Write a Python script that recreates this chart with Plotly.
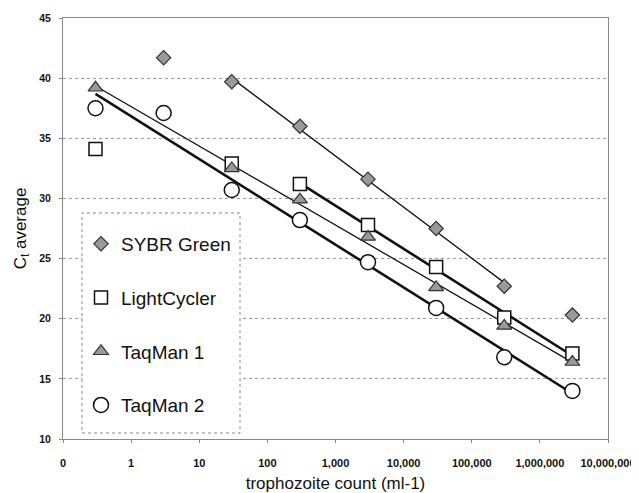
import numpy as np
import plotly.graph_objects as go

# Data
x_vals = [0.3, 3, 30, 300, 3000, 30000, 300000, 3000000]
sybr = [None, 41.7, 39.7, 36.0, 31.6, 27.5, 22.7, 20.3]
light = [34.1, None, 32.9, 31.2, 27.8, 24.3, 20.1, 17.1]
taq1 = [39.2, None, 32.5, 29.9, 26.8, 22.6, 19.4, 16.4]
taq2 = [37.5, 37.1, 30.7, 28.2, 24.7, 20.9, 16.8, 14.0]

# Trendline fitting ranges (indices into x_vals)
sybr_fit = (2, 6)
light_fit = (3, 7)
taq1_fit = (0, 7)
taq2_fit = (0, 7)

x_tickvals = [0.1, 1, 10, 100, 1000, 10000, 100000, 1000000, 10000000]
x_ticktext = ["0", "1", "10", "100", "1,000", "10,000", "100,000", "1,000,000", "10,000,000"]
y_tickvals = [10, 15, 20, 25, 30, 35, 40, 45]

fig = go.Figure()

def trend(ys, rng):
    xs = [x_vals[i] for i in range(rng[0], rng[1] + 1) if ys[i] is not None]
    yv = [ys[i] for i in range(rng[0], rng[1] + 1) if ys[i] is not None]
    lx = np.log10(xs)
    m, b = np.polyfit(lx, yv, 1)
    xe = [x_vals[rng[0]], x_vals[rng[1]]]
    return xe, [m * np.log10(v) + b for v in xe]

lines = [
    (sybr, sybr_fit, 1.3),
    (light, light_fit, 2.6),
    (taq1, taq1_fit, 1.3),
    (taq2, taq2_fit, 2.6),
]
for ys, rng, w in lines:
    xe, ye = trend(ys, rng)
    fig.add_trace(go.Scatter(x=xe, y=ye, mode="lines", line=dict(color="#111", width=w),
                             showlegend=False, hoverinfo="skip"))

series = [
    ("SYBR Green", sybr, dict(symbol="diamond", size=11, color="#9a9a9a", line=dict(color="#333", width=1.2))),
    ("LightCycler", light, dict(symbol="square", size=13, color="white", line=dict(color="#111", width=1.5))),
    ("TaqMan 1", taq1, dict(symbol="triangle-up", size=13, color="#9a9a9a", line=dict(color="#333", width=1.2))),
    ("TaqMan 2", taq2, dict(symbol="circle", size=15, color="white", line=dict(color="#111", width=1.5))),
]
for i, (name, ys, mk) in enumerate(series):
    fig.add_trace(go.Scatter(x=x_vals, y=ys, mode="markers", name=name, marker=mk,
                             legendgroup=f"g{i}"))

# plot area on screen: x 63..608, y 18..439 (page has 8px body margin)
fig.update_layout(
    width=631, height=485,
    margin=dict(l=55, r=31, t=10, b=54),
    paper_bgcolor="white", plot_bgcolor="white",
    font=dict(family="Arial, Liberation Sans, sans-serif", color="#111"),
    legend=dict(x=(81 - 63) / 545, y=(439 - 225) / 421, xanchor="left", yanchor="top",
                bgcolor="rgba(0,0,0,0)", borderwidth=0, itemwidth=30,
                font=dict(size=19, family="Arial, Liberation Sans, sans-serif"),
                tracegroupgap=26),
    shapes=[dict(type="rect", xref="paper", yref="paper",
                 x0=(82 - 63) / 545, x1=(240 - 63) / 545,
                 y0=(439 - 433) / 421, y1=(439 - 213) / 421,
                 line=dict(color="#888", width=1, dash="dot"),
                 fillcolor="white", layer="above")],
)

fig.update_xaxes(type="log", range=[-1, 7], tickvals=x_tickvals, ticktext=x_ticktext,
                 tickfont=dict(size=11, weight="bold"), showgrid=False, automargin=False,
                 showline=True, linecolor="#888", mirror=True,
                 ticks="outside", ticklen=3, tickcolor="#888", ticklabelstandoff=11,
                 title=dict(text="trophozoite count (ml-1)", font=dict(size=17), standoff=11),
                 zeroline=False)
fig.update_yaxes(range=[10, 45], tickvals=y_tickvals, automargin=False,
                 tickfont=dict(size=10.5, weight="bold"),
                 showgrid=True, gridcolor="#999", griddash="dot", gridwidth=1,
                 showline=True, linecolor="#888", mirror=True,
                 ticks="outside", ticklen=3, tickcolor="#888", ticklabelstandoff=6,
                 title=dict(text="C<sub>t</sub> average", font=dict(size=17), standoff=8),
                 zeroline=False)

fig.write_html("out.html")
